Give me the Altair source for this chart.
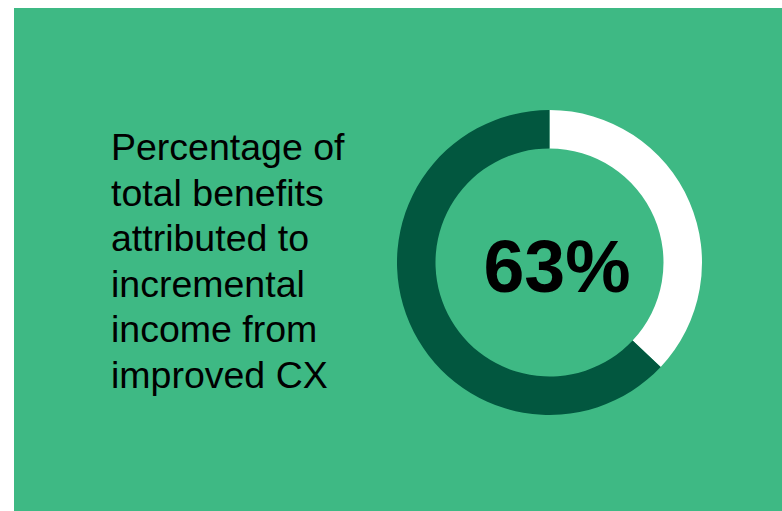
import altair as alt
import pandas as pd

segments = ["Remaining benefits", "Incremental income from improved CX"]
shares = [37, 63]
seg_order = [0, 1]
seg_colors = ["#FFFFFF", "#02573F"]

headline = "63%"
label_lines = ["Percentage of", "total benefits", "attributed to",
               "incremental", "income from", "improved CX"]

df = pd.DataFrame({"segment": segments, "share": shares, "order": seg_order})

cx, cy = 535.5, 254.5

donut = alt.Chart(df).mark_arc(innerRadius=114, outerRadius=152.5, stroke=None).encode(
    theta=alt.Theta("share:Q", stack=True),
    order=alt.Order("order:Q"),
    color=alt.Color("segment:N", scale=alt.Scale(domain=segments, range=seg_colors), legend=None),
    x=alt.value(cx),
    y=alt.value(cy),
)

big = alt.Chart(pd.DataFrame({"t": [headline]})).mark_text(
    font="Liberation Sans", fontSize=73.5, fontWeight="bold", color="#000000",
    align="center", baseline="alphabetic",
).encode(text="t:N", x=alt.value(543), y=alt.value(284))

label = alt.Chart(pd.DataFrame({"t": ["\n".join(label_lines)]})).mark_text(
    font="Liberation Sans", fontSize=37.5, color="#000000", align="left",
    baseline="alphabetic", lineBreak="\n", lineHeight=45.6,
).encode(text="t:N", x=alt.value(97), y=alt.value(152))

chart = alt.layer(donut, big, label).properties(
    width=768, height=503,
    autosize=alt.AutoSizeParams(type="none"),
    padding={"left": 14, "top": 8, "right": 0, "bottom": 0},
    background="#FFFFFF",
).configure_view(fill="#3EB984", stroke=None)

chart.save("out.html", embed_options={"renderer": "svg", "actions": False})
